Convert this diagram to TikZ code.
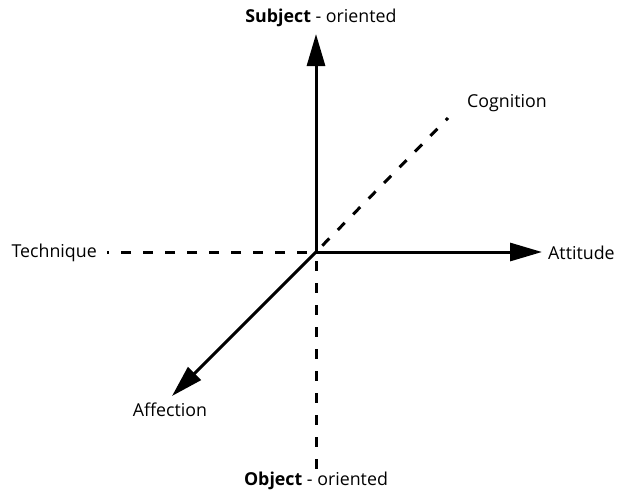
\documentclass[tikz,border=0pt]{standalone}
\usepackage{fontspec}
\setmainfont{Open Sans}
\usetikzlibrary{arrows.meta}
\begin{document}
\begin{tikzpicture}[x=1pt,y=-1pt,
  axis/.style={line width=3pt,-{Triangle[length=32pt,width=18pt]}},
  dax/.style={line width=3pt,dash pattern=on 10pt off 12pt,dash phase=13pt},
  lbl/.style={font=\fontsize{17.8}{20}\selectfont,inner sep=1pt}]
\useasboundingbox (0,0) rectangle (627,491);
\coordinate (O) at (316,252);
\coordinate (up) at (316,34);
\coordinate (right) at (542,252);
\coordinate (dl) at (172,396);
\coordinate (lt) at (107,252);
\coordinate (dn) at (316,476);
\coordinate (ur) at (448,118);
\draw[dax] (O) -- (lt);
\draw[dax] (O) -- (dn);
\draw[dax] (O) -- (ur);
\draw[axis] (O) -- (up);
\draw[axis] (O) -- (right);
\draw[axis] (O) -- (dl);
\node[lbl] (subj) at (321,18) {\textbf{Subject} - oriented};
\node[lbl] (obj) at (316,481) {\textbf{Object} - oriented};
\node[lbl,anchor=west] (att) at (547,253) {Attitude};
\node[lbl,anchor=east] (tech) at (98,253) {Technique};
\node[lbl,anchor=west] (cog) at (466,103) {Cognition};
\node[lbl] (aff) at (170,410) {Affection};
\end{tikzpicture}
\end{document}
